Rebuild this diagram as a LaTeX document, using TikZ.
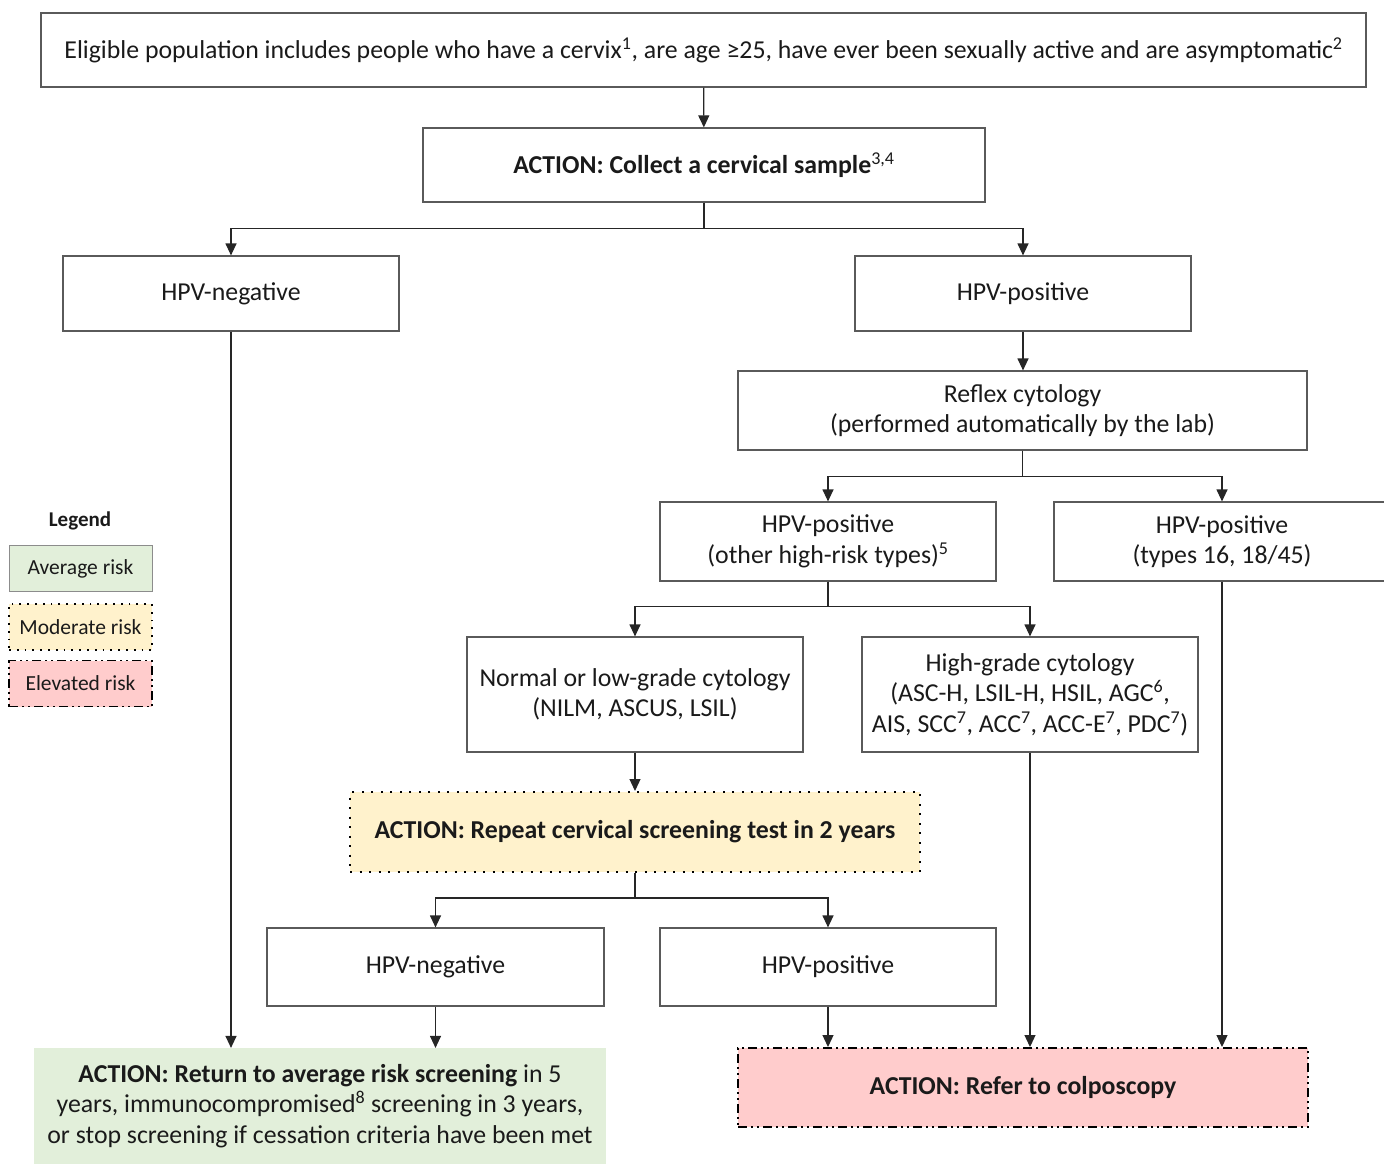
\documentclass[tikz,border=0pt]{standalone}
\usepackage{fontspec}
\setmainfont{Carlito}
\usetikzlibrary{arrows.meta}
\definecolor{txt}{HTML}{1A1A1A}
\definecolor{bordergray}{HTML}{5A5A5A}
\definecolor{avgfill}{HTML}{E2EFDA}
\definecolor{modfill}{HTML}{FFF2CC}
\definecolor{elevfill}{HTML}{FFCCCC}
\tikzset{
  box/.style={draw=bordergray, line width=1.2pt, fill=white, align=center, text=txt,
    inner sep=0pt, font=\fontsize{25.8}{30.5}\selectfont},
  avgbox/.style={box, draw=avgfill, fill=avgfill},
  modbox/.style={box, draw=black, fill=modfill, line width=2pt, dash pattern=on 2pt off 7.5pt},
  elevbox/.style={box, draw=black, fill=elevfill, line width=2pt,
    dash pattern=on 9pt off 4pt on 2pt off 4pt on 2pt off 4pt},
  legbox/.style={inner sep=0pt, align=center, text=txt, font=\fontsize{21.5}{25}\selectfont,
    minimum width=143pt, minimum height=46pt},
  conn/.style={draw=black!85, line width=1.2pt},
  arr/.style={conn, -{Triangle[length=12pt,width=11pt]}},
}
\begin{document}
\begin{tikzpicture}[x=1pt,y=-1pt]
\useasboundingbox (0,0) rectangle (1384,1163);
% main flow
\node[box, minimum width=1325pt, minimum height=74pt] (top) at (703.5,50)
  {Eligible population includes people who have a cervix\textsuperscript{1}, are age ≥25, have ever been sexually active and are asymptomatic\textsuperscript{2}};
\node[box, minimum width=562pt, minimum height=74pt] (collect) at (704,165)
  {\textbf{ACTION: Collect a cervical sample}\textsuperscript{3,4}};
\node[box, minimum width=336pt, minimum height=75pt] (neg1) at (231,293.5) {HPV-negative};
\node[box, minimum width=336pt, minimum height=75pt] (pos1) at (1023,293.5) {HPV-positive};
\node[box, minimum width=569pt, minimum height=79pt] (reflex) at (1022.5,410.5)
  {Reflex cytology\\(performed automatically by the lab)};
\node[box, minimum width=336pt, minimum height=79pt] (other) at (828,541.5)
  {HPV-positive\\(other high-risk types)\textsuperscript{5}};
\node[box, minimum width=336pt, minimum height=79pt] (types) at (1222,541.5)
  {HPV-positive\\(types 16, 18/45)};
\node[box, minimum width=336pt, minimum height=115pt] (normal) at (635,694.5)
  {Normal or low-grade cytology\\(NILM, ASCUS, LSIL)};
\node[box, minimum width=336pt, minimum height=115pt] (high) at (1030,694.5)
  {High-grade cytology\\(ASC-H, LSIL-H, HSIL, AGC\textsuperscript{6},\\AIS, SCC\textsuperscript{7}, ACC\textsuperscript{7}, ACC-E\textsuperscript{7}, PDC\textsuperscript{7})};
\node[modbox, minimum width=570pt, minimum height=80pt] (repeat) at (635,832)
  {\textbf{ACTION: Repeat cervical screening test in 2 years}};
\node[box, minimum width=337pt, minimum height=78pt] (neg2) at (435.5,967) {HPV-negative};
\node[box, minimum width=336pt, minimum height=78pt] (pos2) at (828,967) {HPV-positive};
\node[avgbox, minimum width=570pt, minimum height=115pt] (green) at (320,1106)
  {\textbf{ACTION: Return to average risk screening} in 5\\years, immunocompromised\textsuperscript{8} screening in 3 years,\\or stop screening if cessation criteria have been met};
\node[elevbox, minimum width=570pt, minimum height=79pt] (red) at (1023,1087.5)
  {\textbf{ACTION: Refer to colposcopy}};
% legend
\node[text=txt, font=\bfseries\fontsize{21}{25}\selectfont] (legend) at (80,521) {Legend};
\node[legbox, draw=black!45, line width=1pt, fill=avgfill] (lavg) at (80.5,568.5) {Average risk};
\node[legbox, draw=black, fill=modfill, line width=1.8pt, dash pattern=on 1.8pt off 6pt] (lmod) at (80.5,627) {Moderate risk};
\node[legbox, draw=black, fill=elevfill, line width=1.8pt, dash pattern=on 9pt off 4pt on 2pt off 4pt on 2pt off 4pt] (lelev) at (80.5,683.5) {Elevated risk};
% connectors
\draw[arr] (top) -- (collect);
\draw[arr] (collect.south) -- ++(0,26) -| (neg1.north);
\draw[arr] (collect.south) -- ++(0,26) -| (pos1.north);
\draw[arr] (pos1) -- (pos1.south |- reflex.north);
\draw[arr] (reflex.south) -- ++(0,26) -| (other.north);
\draw[arr] (reflex.south) -- ++(0,26) -| (types.north);
\draw[arr] (other.south) -- ++(0,25) -| (normal.north);
\draw[arr] (other.south) -- ++(0,25) -| (high.north);
\draw[arr] (normal) -- (normal.south |- repeat.north);
\draw[arr] (repeat.south) -- ++(0,25) -| (neg2.north);
\draw[arr] (repeat.south) -- ++(0,25) -| (pos2.north);
\draw[arr] (neg1.south) -- (neg1.south |- green.north);
\draw[arr] (neg2.south) -- (neg2.south |- green.north);
\draw[arr] (pos2.south) -- (pos2.south |- red.north);
\draw[arr] (high.south) -- (high.south |- red.north);
\draw[arr] (types.south) -- (types.south |- red.north);
\end{tikzpicture}
\end{document}
